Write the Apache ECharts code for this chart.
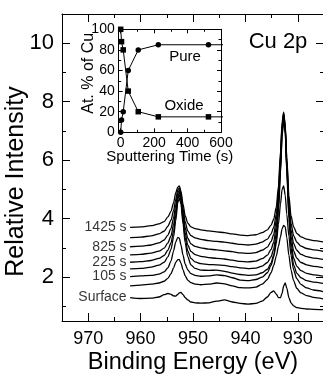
<!DOCTYPE html>
<html><head><meta charset="utf-8">
<script src="https://cdn.jsdelivr.net/npm/echarts@6/dist/echarts.min.js"></script>
<style>html,body{margin:0;padding:0;background:#fff}#c{width:323px;height:375px}</style>
</head><body><div id="c"></div>
<script>
// Binding energy sample points (eV), shared by all spectra
const energies = [962, 960, 958, 956.5, 955.5, 954.8, 954.2, 953.7, 953.3, 952.9, 952.6, 952.3, 951.9, 951.5, 951.0, 950.4, 949.6, 948.5, 947, 945.5, 944, 942.5, 941, 939.5, 938, 936.8, 935.8, 935.1, 934.6, 934.1, 933.7, 933.3, 933.0, 932.7, 932.4, 932.1, 931.7, 931.3, 930.8, 930.2, 929.4, 928.3, 927, 925];

// Spectra, bottom to top
const surface = [1.30, 1.27, 1.28, 1.32, 1.40, 1.44, 1.41, 1.36, 1.35, 1.41, 1.46, 1.48, 1.40, 1.30, 1.22, 1.15, 1.12, 1.11, 1.12, 1.18, 1.22, 1.15, 1.10, 1.08, 1.10, 1.18, 1.32, 1.48, 1.53, 1.42, 1.30, 1.30, 1.45, 1.70, 1.80, 1.62, 1.30, 1.12, 1.02, 0.96, 0.93, 0.91, 0.90, 0.89];
const curve2 = [1.70, 1.73, 1.76, 1.80, 1.86, 1.96, 2.12, 2.32, 2.50, 2.60, 2.60, 2.48, 2.25, 2.05, 1.90, 1.81, 1.76, 1.74, 1.76, 1.80, 1.77, 1.70, 1.64, 1.63, 1.66, 1.76, 1.92, 2.15, 2.40, 2.72, 3.05, 3.38, 3.65, 3.77, 3.72, 3.35, 2.75, 2.25, 1.88, 1.62, 1.46, 1.37, 1.31, 1.25];
const t105 = [2.02, 2.04, 2.06, 2.10, 2.18, 2.32, 2.55, 2.90, 3.20, 3.36, 3.33, 3.10, 2.75, 2.45, 2.25, 2.12, 2.06, 2.03, 2.04, 2.08, 2.05, 1.98, 1.90, 1.88, 1.92, 2.00, 2.15, 2.40, 2.70, 3.15, 3.80, 4.50, 5.00, 5.12, 4.80, 4.15, 3.40, 2.75, 2.25, 1.95, 1.75, 1.63, 1.56, 1.50];
const curve4 = [2.28, 2.30, 2.34, 2.41, 2.51, 2.69, 2.95, 3.38, 3.92, 4.55, 4.70, 4.50, 3.82, 3.18, 2.70, 2.42, 2.30, 2.24, 2.23, 2.24, 2.20, 2.14, 2.09, 2.06, 2.08, 2.15, 2.27, 2.48, 2.76, 3.30, 4.20, 5.55, 6.80, 7.40, 6.92, 5.60, 4.00, 3.00, 2.42, 2.14, 1.98, 1.88, 1.83, 1.78];
const t225 = [2.51, 2.53, 2.57, 2.64, 2.74, 2.92, 3.17, 3.58, 4.10, 4.68, 4.82, 4.60, 3.95, 3.35, 2.90, 2.64, 2.52, 2.46, 2.43, 2.42, 2.40, 2.36, 2.32, 2.29, 2.31, 2.38, 2.50, 2.70, 2.97, 3.50, 4.38, 5.70, 6.90, 7.47, 7.00, 5.70, 4.15, 3.20, 2.65, 2.38, 2.22, 2.13, 2.08, 2.03];
const curve6 = [2.76, 2.78, 2.82, 2.89, 2.99, 3.17, 3.41, 3.80, 4.28, 4.78, 4.90, 4.70, 4.08, 3.52, 3.10, 2.88, 2.77, 2.71, 2.67, 2.64, 2.62, 2.58, 2.54, 2.52, 2.55, 2.63, 2.75, 2.95, 3.20, 3.72, 4.55, 5.85, 7.00, 7.52, 7.05, 5.80, 4.30, 3.40, 2.90, 2.65, 2.50, 2.42, 2.37, 2.32];
const t825 = [3.04, 3.06, 3.10, 3.17, 3.27, 3.44, 3.67, 4.03, 4.46, 4.88, 4.98, 4.78, 4.20, 3.70, 3.33, 3.14, 3.05, 3.00, 2.96, 2.93, 2.90, 2.87, 2.83, 2.81, 2.84, 2.92, 3.03, 3.22, 3.46, 3.95, 4.75, 6.00, 7.10, 7.57, 7.10, 5.90, 4.45, 3.62, 3.15, 2.92, 2.78, 2.70, 2.65, 2.60];
const curve8 = [3.35, 3.37, 3.41, 3.48, 3.57, 3.74, 3.95, 4.28, 4.66, 4.98, 5.05, 4.85, 4.35, 3.90, 3.58, 3.42, 3.34, 3.29, 3.25, 3.22, 3.20, 3.16, 3.12, 3.10, 3.13, 3.20, 3.30, 3.48, 3.70, 4.15, 4.90, 6.15, 7.20, 7.60, 7.15, 6.00, 4.60, 3.85, 3.42, 3.20, 3.06, 2.98, 2.93, 2.88];
const t1425 = [3.70, 3.72, 3.76, 3.82, 3.90, 4.06, 4.25, 4.55, 4.88, 5.08, 5.12, 4.95, 4.50, 4.10, 3.85, 3.72, 3.66, 3.62, 3.58, 3.55, 3.52, 3.48, 3.44, 3.42, 3.45, 3.52, 3.62, 3.78, 3.98, 4.40, 5.10, 6.30, 7.30, 7.64, 7.20, 6.10, 4.80, 4.10, 3.72, 3.50, 3.38, 3.30, 3.25, 3.20];

const spectraNames = ['Surface', 'curve 2', '105 s', 'curve 4', '225 s', 'curve 6', '825 s', 'curve 8', '1425 s'];
const spectraValues = [surface, curve2, t105, curve4, t225, curve6, t825, curve8, t1425];
const labelledNames = ['Surface', '105 s', '225 s', '825 s', '1425 s'];

// Inset: composition vs sputtering time
const sputterTime = [0, 5, 15, 45, 105, 225, 525, 825, 1425];
const purePct = [0, 12, 20, 60, 80, 85, 85, 85, 85];
const oxidePct = [100, 88, 80, 40, 20, 15, 15, 15, 15];

const FONT = 'Liberation Sans, Arial, Helvetica, sans-serif';
const K = '#000';
const main = {left: 62, top: 14, width: 262, height: 307};
const inset = {left: 118.7, top: 29.3, width: 102.3, height: 103};

function xAx(o) {
  return Object.assign({
    type: 'value', gridIndex: 0, min: 925, max: 975, inverse: true,
    axisLine: {show: false, onZero: false, lineStyle: {color: K, width: 1}},
    axisTick: {show: true, inside: true, length: 4, lineStyle: {color: K, width: 1}},
    axisLabel: {show: false}, splitLine: {show: false}
  }, o);
}
function yAx(o) {
  return Object.assign({
    type: 'value', gridIndex: 0, min: 0.5, max: 11,
    axisLine: {show: false, onZero: false, lineStyle: {color: K, width: 1}},
    axisTick: {show: true, inside: true, length: 4, lineStyle: {color: K, width: 1}},
    axisLabel: {show: false}, splitLine: {show: false}
  }, o);
}

const xAxes = [
  xAx({position: 'bottom', minInterval: 10, maxInterval: 10,
       axisLine: {show: true, onZero: false, lineStyle: {color: K, width: 1}},
       axisTick: {show: true, inside: true, length: 8, lineStyle: {color: K, width: 1}},
       axisLabel: {show: true, showMinLabel: false, showMaxLabel: false, fontSize: 18, color: K, margin: 9, fontFamily: FONT},
       name: 'Binding Energy (eV)', nameLocation: 'middle', nameGap: 30, nameMoveOverlap: false,
       nameTextStyle: {fontSize: 23.5, color: K, fontFamily: FONT}}),
  xAx({position: 'bottom', interval: 5}),
  xAx({position: 'top', minInterval: 10, maxInterval: 10,
       axisLine: {show: true, onZero: false, lineStyle: {color: K, width: 1}},
       axisTick: {show: true, inside: true, length: 8, lineStyle: {color: K, width: 1}}}),
  xAx({position: 'top', interval: 5}),
  {type: 'value', gridIndex: 1, position: 'bottom', min: -12, max: 600, minInterval: 200, maxInterval: 200,
   axisLine: {show: true, onZero: false, lineStyle: {color: K, width: 1}},
   axisTick: {show: true, inside: true, length: 4, lineStyle: {color: K}},
   minorTick: {show: true, splitNumber: 2, length: 2.5, lineStyle: {color: K}},
   axisLabel: {show: true, showMinLabel: false, fontSize: 14, color: K, margin: 4, fontFamily: FONT},
   splitLine: {show: false},
   name: 'Sputtering Time (s)', nameLocation: 'middle', nameGap: 17, nameMoveOverlap: false,
   nameTextStyle: {fontSize: 15, color: K, fontFamily: FONT}},
  {type: 'value', gridIndex: 1, position: 'top', min: -12, max: 600, minInterval: 200, maxInterval: 200,
   axisLine: {show: true, onZero: false, lineStyle: {color: K, width: 1}},
   axisTick: {show: true, inside: true, length: 4, lineStyle: {color: K}},
   minorTick: {show: true, splitNumber: 2, length: 2.5, lineStyle: {color: K}},
   axisLabel: {show: false}, splitLine: {show: false}}
];

const yAxes = [
  yAx({position: 'left', minInterval: 2, maxInterval: 2,
       axisLine: {show: true, onZero: false, lineStyle: {color: K, width: 1}},
       axisTick: {show: true, inside: true, length: 8, lineStyle: {color: K, width: 1}},
       axisLabel: {show: true, showMinLabel: false, showMaxLabel: false, fontSize: 22, color: K, margin: 8, fontFamily: FONT},
       name: 'Relative Intensity', nameLocation: 'middle', nameGap: 33, nameMoveOverlap: false,
       nameTextStyle: {fontSize: 25, color: K, fontFamily: FONT, padding: [0, 28, 0, 0]}}),
  yAx({position: 'left', minInterval: 1, maxInterval: 1}),
  yAx({position: 'right', minInterval: 2, maxInterval: 2,
       axisLine: {show: true, onZero: false, lineStyle: {color: K, width: 1}},
       axisTick: {show: true, inside: true, length: 8, lineStyle: {color: K, width: 1}}}),
  yAx({position: 'right', minInterval: 1, maxInterval: 1}),
  {type: 'value', gridIndex: 1, position: 'left', min: 0, max: 100, interval: 20,
   axisLine: {show: true, onZero: false, lineStyle: {color: K, width: 1}},
   axisTick: {show: true, inside: true, length: 4, lineStyle: {color: K}},
   minorTick: {show: true, splitNumber: 2, length: 2.5, lineStyle: {color: K}},
   axisLabel: {show: true, fontSize: 14, color: K, margin: 4, fontFamily: FONT},
   splitLine: {show: false},
   name: 'At. % of Cu', nameLocation: 'middle', nameGap: 22, nameMoveOverlap: false,
   nameTextStyle: {fontSize: 16, color: K, fontFamily: FONT, padding: [0, 0, 0, 15]}},
  {type: 'value', gridIndex: 1, position: 'right', min: 0, max: 100, interval: 20,
   axisLine: {show: true, onZero: false, lineStyle: {color: K, width: 1}},
   axisTick: {show: true, inside: true, length: 4, lineStyle: {color: K}},
   minorTick: {show: true, splitNumber: 2, length: 2.5, lineStyle: {color: K}},
   axisLabel: {show: false}, splitLine: {show: false}}
];

const series = spectraValues.map((vals, k) => ({
  name: spectraNames[k], type: 'line', xAxisIndex: 0, yAxisIndex: 0,
  data: energies.map((e, i) => [e, vals[i]]),
  showSymbol: false, symbol: 'none', smooth: 0.25, smoothMonotone: 'x',
  lineStyle: {color: K, width: 1.3}, itemStyle: {color: K}, silent: true, z: 3
}));

series.push({
  type: 'scatter', xAxisIndex: 0, yAxisIndex: 0, symbolSize: 1,
  itemStyle: {color: 'rgba(0,0,0,0)'},
  data: labelledNames.map(n => {
    const vals = spectraValues[spectraNames.indexOf(n)];
    return {name: n, value: [energies[0], vals[0]]};
  }),
  label: {show: true, position: 'left', distance: 3, formatter: '{b}', fontSize: 14, color: K, fontFamily: FONT},
  silent: true, z: 4
});

series.push({
  name: 'Pure', type: 'line', xAxisIndex: 4, yAxisIndex: 4,
  data: sputterTime.map((t, i) => [t, purePct[i]]),
  symbol: 'circle', symbolSize: 5.5, showSymbol: true, clip: true,
  lineStyle: {color: K, width: 1}, itemStyle: {color: K}, z: 5
});
series.push({
  name: 'Oxide', type: 'line', xAxisIndex: 4, yAxisIndex: 4,
  data: sputterTime.map((t, i) => [t, oxidePct[i]]),
  symbol: 'rect', symbolSize: 5.5, showSymbol: true, clip: true,
  lineStyle: {color: K, width: 1}, itemStyle: {color: K}, z: 5
});

const option = {
  animation: false,
  backgroundColor: '#fff',
  textStyle: {fontFamily: FONT, color: K},
  grid: [
    Object.assign({containLabel: false, outerBoundsMode: 'none'}, main),
    Object.assign({containLabel: false, outerBoundsMode: 'none'}, inset)
  ],
  xAxis: xAxes,
  yAxis: yAxes,
  series: series,
  graphic: [
    {type: 'text', x: 278, y: 41.5, style: {text: 'Cu 2p', fontSize: 22, fontFamily: FONT, fill: K, textAlign: 'center', textVerticalAlign: 'middle'}},
    {type: 'text', x: 185, y: 57, style: {text: 'Pure', fontSize: 15, fontFamily: FONT, fill: K, textAlign: 'center', textVerticalAlign: 'middle'}},
    {type: 'text', x: 184, y: 105.5, style: {text: 'Oxide', fontSize: 15, fontFamily: FONT, fill: K, textAlign: 'center', textVerticalAlign: 'middle'}}
  ]
};

const chart = echarts.init(document.getElementById('c'), null, {renderer: 'canvas'});
chart.setOption(option);
</script>
</body></html>
